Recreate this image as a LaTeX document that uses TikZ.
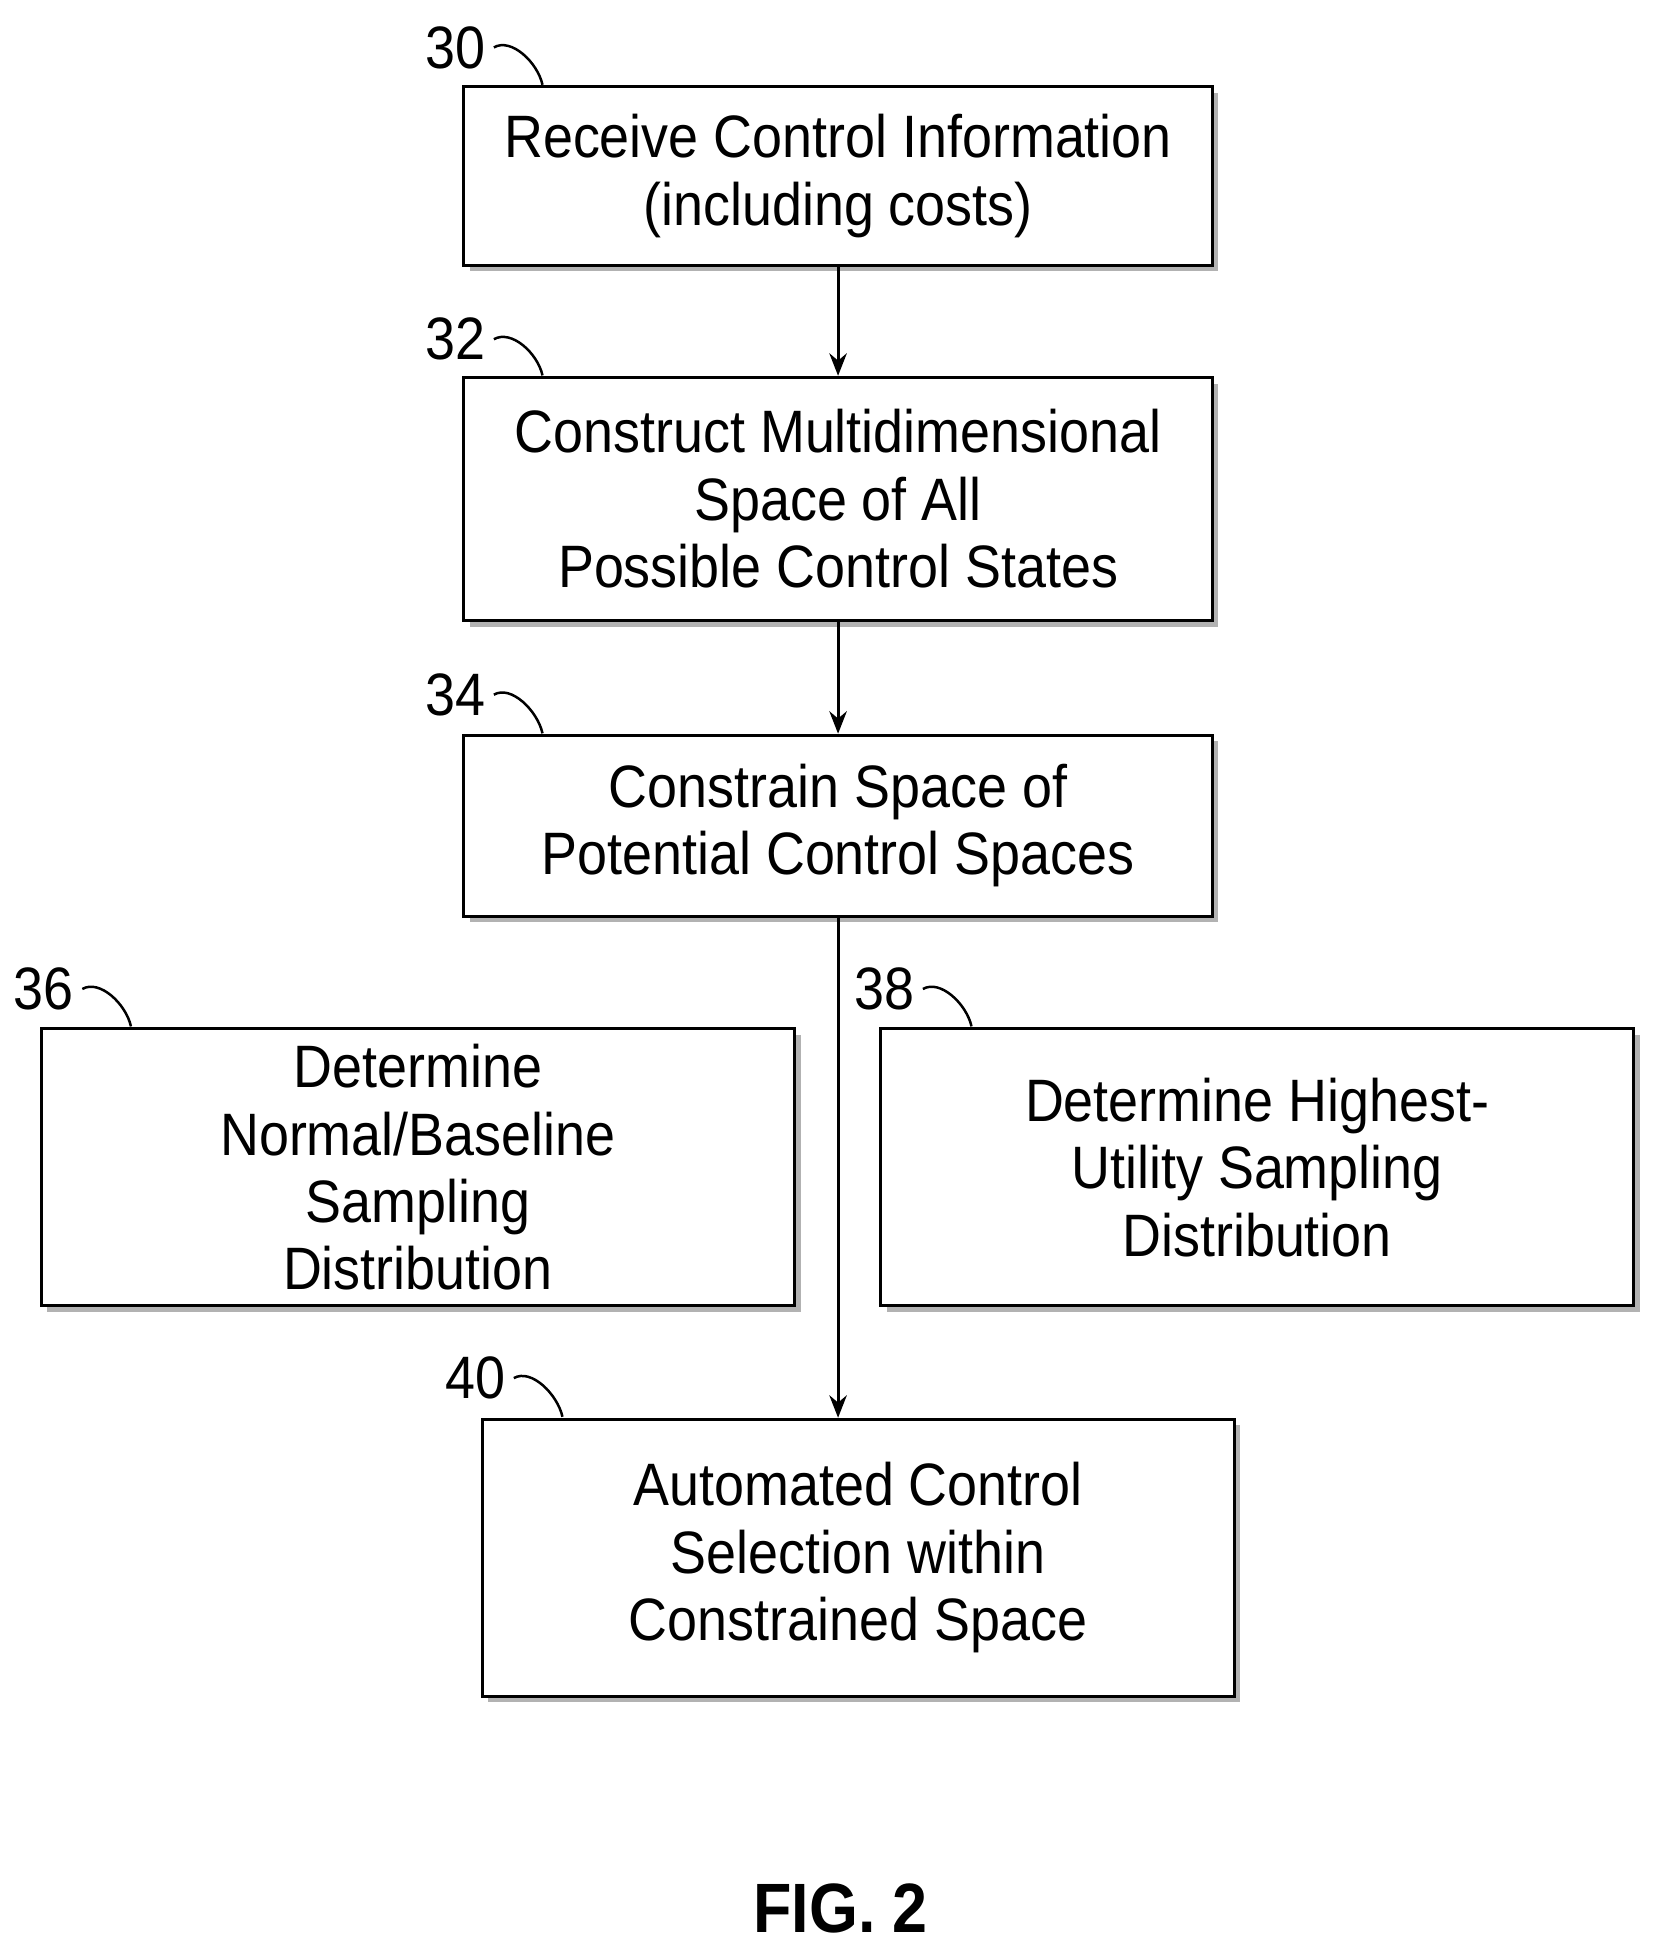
\documentclass[tikz,border=0pt]{standalone}
\usepackage{fontspec}
\setmainfont{Liberation Sans}[FakeStretch=0.9]
\usetikzlibrary{shadows,arrows.meta}

\begin{document}
\begin{tikzpicture}[x=0.5pt,y=-0.5pt,
        stepbox/.style={draw, line width=1.2pt, fill=white, align=center,
          drop shadow={shadow xshift=2.5pt, shadow yshift=-2.5pt, fill=gray!60, opacity=1},
          font=\fontsize{24}{27}\selectfont, inner sep=0pt},
        num/.style={font=\fontsize{24}{26}\selectfont, anchor=east},
        lead/.style={line width=1pt},
        flow/.style={line width=1.2pt, -{Stealth[length=9pt,width=7pt]}}]
        \useasboundingbox (0,0) rectangle (1330,1570);

        \node [stepbox, minimum width=300pt, minimum height=71.5pt] (b30) at (672,141) {Receive Control Information\\(including costs)};
        \node [stepbox, minimum width=300pt, minimum height=97.5pt] (b32) at (672,400) {Construct Multidimensional\\Space of All\\Possible Control States};
        \node [stepbox, minimum width=300pt, minimum height=72.5pt] (b34) at (672,662) {Constrain Space of\\Potential Control Spaces};
        \node [stepbox, minimum width=302pt, minimum height=111pt] (b36) at (335,936) {Determine\\Normal/Baseline\\Sampling\\Distribution};
        \node [stepbox, minimum width=302pt, minimum height=111pt] (b38) at (1008,936) {Determine Highest-\\Utility Sampling\\Distribution};
        \node [stepbox, minimum width=301.5pt, minimum height=111pt] (b40) at (688,1249) {Automated Control\\Selection within\\Constrained Space};

        % reference numerals
        \node [num] (n30) at (396,38) {30};
        \node [num] (n32) at (396,272) {32};
        \node [num] (n34) at (396,557) {34};
        \node [num] (n36) at (66,793) {36};
        \node [num] (n38) at (740,793) {38};
        \node [num] (n40) at (412,1105) {40};
        \coordinate (t30) at (435,68);
        \coordinate (t32) at (435,301);
        \coordinate (t34) at (435,588);
        \coordinate (t36) at (105,823);
        \coordinate (t38) at (779,823);
        \coordinate (t40) at (451,1136);
        \foreach \k in {30,32,34,36,38,40}
          \draw [lead] (n\k.east) .. controls +(14,-8) and +(-4,-18) .. (t\k);

        \draw [flow] (b30) -- (b32);
        \draw [flow] (b32) -- (b34);
        \draw [flow] (b34.south) -- (b34.south |- b40.north);

        \node [font=\fontsize{28}{30}\selectfont\bfseries] (fig) at (674,1530) {FIG. 2};
    \end{tikzpicture}
\end{document}
